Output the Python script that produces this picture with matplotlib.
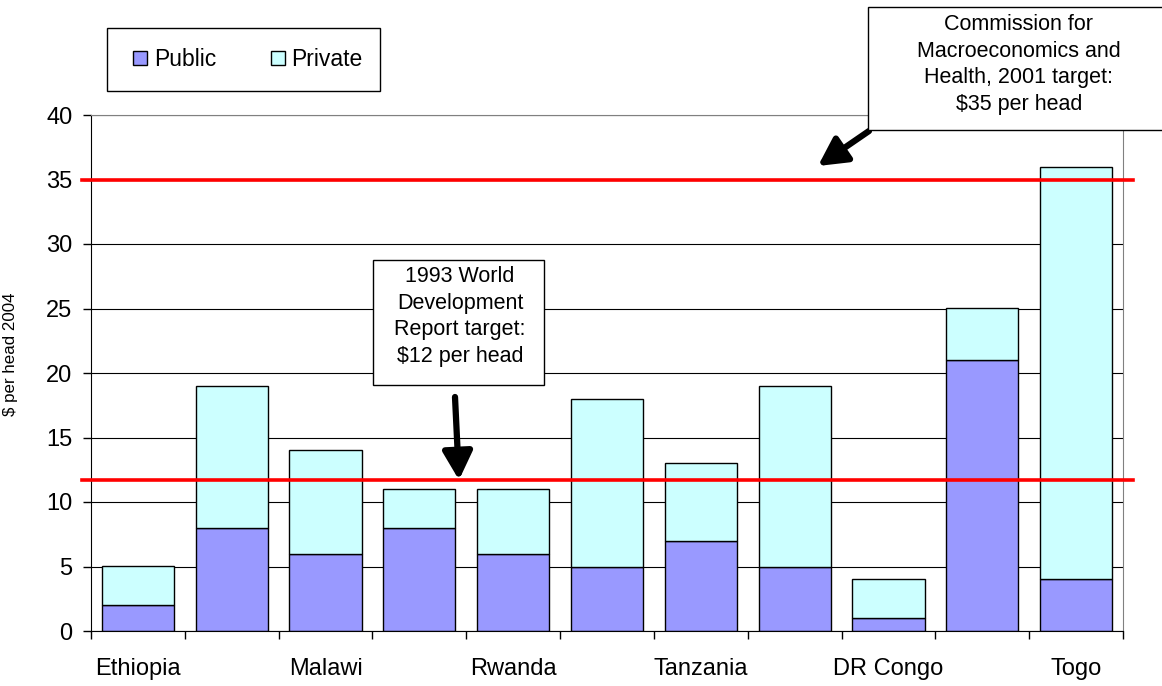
import matplotlib
matplotlib.use("Agg")
import matplotlib.pyplot as plt
import matplotlib.patches as patches
import numpy as np

plt.rcParams['font.family'] = ['Liberation Sans', 'DejaVu Sans']

# bar data, only every other country is labelled on the axis
labels = ["Ethiopia", "", "Malawi", "", "Rwanda", "", "Tanzania", "", "DR Congo", "", "Togo"]
public = [2, 8, 6, 8, 6, 5, 7, 5, 1, 21, 4]
private = [3, 11, 8, 3, 5, 13, 6, 14, 3, 4, 32]
yticks = [0, 5, 10, 15, 20, 25, 30, 35, 40]

# target lines
cmh_target = 35
wdr_target = 11.7

W, H = 1162, 686
fig = plt.figure(figsize=(W / 100, H / 100), dpi=100)
ax = fig.add_axes([91 / W, 1 - 631 / H, (1123 - 91) / W, (631 - 115) / H])

x = np.arange(len(labels))
ax.bar(x, public, width=0.77, color='#9999FF', edgecolor='black', linewidth=1, label='Public', zorder=2)
ax.bar(x, private, width=0.77, bottom=public, color='#CCFFFF', edgecolor='black', linewidth=1, label='Private', zorder=2)

ax.set_xlim(-0.5, len(labels) - 0.5)
ax.set_ylim(0, 40)
ax.set_yticks(yticks)
ax.yaxis.grid(True, color='black', linewidth=0.8)
ax.set_axisbelow(True)

# ticks between bars, labels under bars
ax.set_xticks(np.arange(-0.5, len(labels), 1.0))
ax.set_xticklabels([])
ax.set_xticks(x, minor=True)
ax.set_xticklabels(labels, minor=True)
ax.tick_params(axis='x', which='major', direction='out', length=5.8, width=1)
ax.tick_params(axis='x', which='minor', length=0, pad=19.5, labelsize=17)
ax.tick_params(axis='y', direction='out', length=5.8, width=1, pad=7.5, labelsize=17)

for s in ['top', 'right']:
    ax.spines[s].set_color('#808080')
for s in ['left', 'bottom']:
    ax.spines[s].set_color('black')

ax.set_ylabel('$ per head 2004', fontsize=12.2)
ax.yaxis.set_label_coords(-0.0707, 0.536)

# red target lines, a little wider than the plot area
for t in [cmh_target, wdr_target]:
    ax.axhline(t, xmin=-0.0087, xmax=1.0097, color='#FF0000', linewidth=2.6, clip_on=False, zorder=5)


# boxes drawn in pixel positions
def box(x0, y0, x1, y1, z=10):
    r = patches.Rectangle((x0 / W, 1 - y1 / H), (x1 - x0) / W, (y1 - y0) / H,
                          transform=fig.transFigure, facecolor='white', edgecolor='black',
                          linewidth=1, zorder=z)
    fig.add_artist(r)


# legend: frame drawn by hand, entries placed inside it
box(107, 28, 380, 91, z=1)
leg = fig.legend(loc='center left', bbox_to_anchor=(133 / W, 1 - 59.5 / H), ncol=2, fontsize=16.5,
                 frameon=False, borderpad=0, handlelength=0.6, handleheight=0.6, handletextpad=0.3,
                 columnspacing=2.4, borderaxespad=0)
leg.set_zorder(2)

box(868, 7, 1180, 130)
fig.text(1019 / W, 1 - 64.5 / H, "Commission for\nMacroeconomics and\nHealth, 2001 target:\n$35 per head",
         ha='center', va='center', fontsize=15.5, linespacing=1.37, zorder=11)

box(373, 260, 544, 385)
fig.text(460 / W, 1 - 316.5 / H, "1993 World\nDevelopment\nReport target:\n$12 per head",
         ha='center', va='center', fontsize=15.5, linespacing=1.37, zorder=11)

# arrows
arrow = dict(arrowstyle='-|>,head_length=0.85,head_width=0.45', mutation_scale=20,
             color='black', lw=4.5, shrinkA=0, shrinkB=0)
ax.annotate('', xy=(818, H - 166), xytext=(869, H - 131), xycoords='figure pixels',
            textcoords='figure pixels', arrowprops=arrow, zorder=12)
ax.annotate('', xy=(459, H - 480), xytext=(455, H - 397), xycoords='figure pixels',
            textcoords='figure pixels', arrowprops=arrow, zorder=12)

fig.savefig('out.png', dpi=100)
